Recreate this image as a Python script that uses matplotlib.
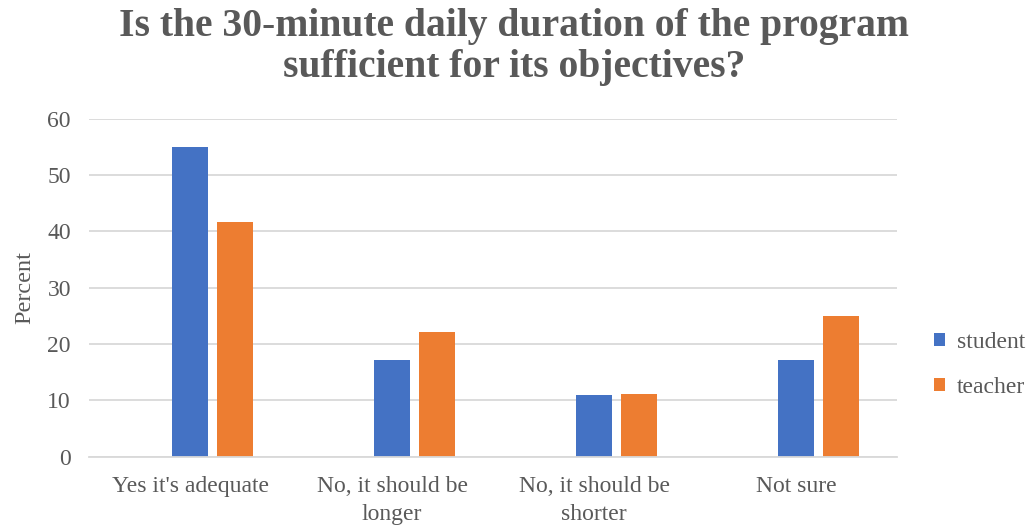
import matplotlib
matplotlib.use("Agg")
import matplotlib.pyplot as plt
import numpy as np

categories = ["Yes it's adequate", "No, it should be\nlonger", "No, it should be\nshorter", "Not sure"]
student = [55.0, 17.1, 10.9, 17.1]
teacher = [41.7, 22.2, 11.1, 25.0]
yticks = [0, 10, 20, 30, 40, 50, 60]

TEXT = "#595959"
BLUE = "#4472C4"
ORANGE = "#ED7D31"
GRID = "#D9D9D9"

plt.rcParams["font.family"] = ["Liberation Serif", "DejaVu Serif"]

fig = plt.figure(figsize=(10.28, 5.25), dpi=100)
ax = fig.add_axes([0.0866, 0.1301, 0.7860, 0.6438])

x = np.arange(len(categories))
w = 0.175
step = 0.223
b1 = ax.bar(x, student, width=w, color=BLUE, label="student", zorder=3)
b2 = ax.bar(x + step, teacher, width=w, color=ORANGE, label="teacher", zorder=3)

ax.set_xlim(-0.5, len(categories) - 0.5)
ax.set_ylim(0, 60)
ax.set_yticks(yticks)
ax.set_xticks(x)
ax.set_xticklabels(categories, fontsize=17, color=TEXT, linespacing=1.45)
ax.tick_params(axis="y", labelsize=17, labelcolor=TEXT, length=0, pad=13)
ax.tick_params(axis="x", length=0, pad=14)
ax.yaxis.grid(True, color=GRID, linewidth=1.3, zorder=0)
for s in ["top", "right", "left"]:
    ax.spines[s].set_visible(False)
ax.spines["bottom"].set_color(GRID)
ax.spines["bottom"].set_linewidth(1.3)
ax.spines["bottom"].set_zorder(4)

ax.set_ylabel("Percent", fontsize=17.5, color=TEXT, labelpad=9)

fig.suptitle("Is the 30-minute daily duration of the program\nsufficient for its objectives?",
             x=0.5, y=0.985, fontsize=28.5, fontweight="bold", color=TEXT, linespacing=1.15)

fig.legend(handles=[b1, b2], loc="center left", bbox_to_anchor=(0.888, 0.305),
           frameon=False, fontsize=17, labelcolor=TEXT, handlelength=0.45,
           handleheight=0.45, handletextpad=0.5, labelspacing=1.0)

fig.savefig("out.png", dpi=100)
